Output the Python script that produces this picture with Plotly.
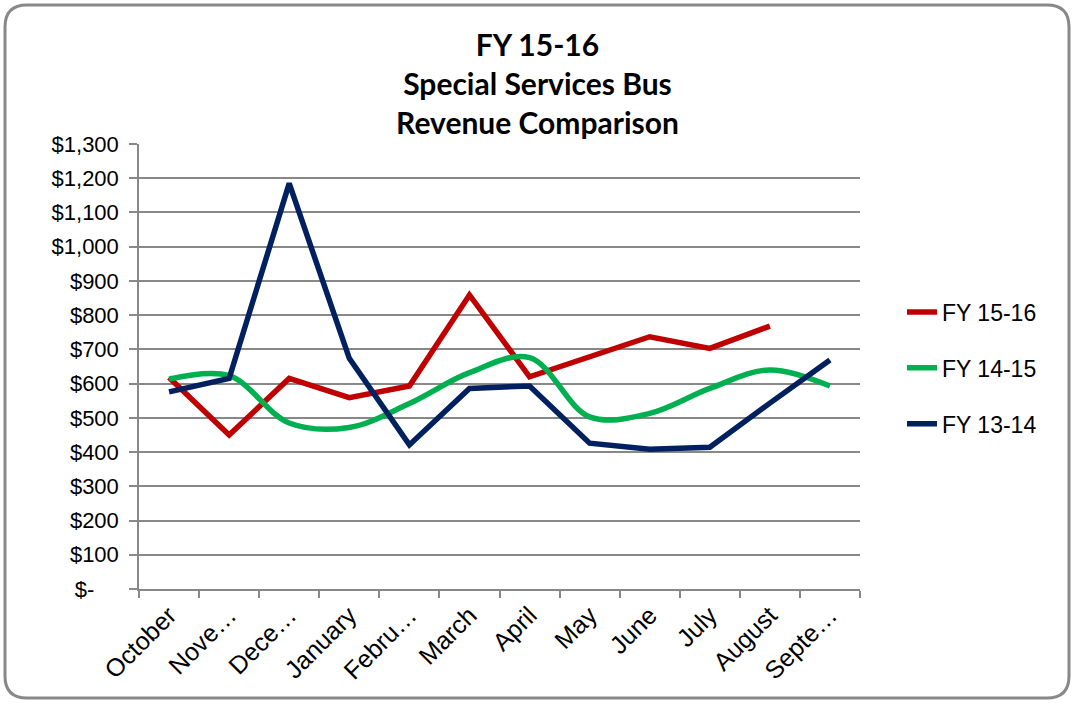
import plotly.graph_objects as go

# ---- data ----
months = ["October", "Nove…", "Dece…", "January", "Febru…", "March",
          "April", "May", "June", "July", "August", "Septe…"]
fy_15_16 = [618, 450, 615, 559, 593, 859, 620, 680, 737, 703, 768, None]
fy_14_15 = [613, 623, 485, 472, 542, 632, 676, 503, 513, 586, 640, 593]
fy_13_14 = [576, 615, 1185, 674, 421, 586, 593, 426, 408, 414, 543, 669]
y_tick_vals = list(range(0, 1400, 100))
y_tick_text = ["$-" + "\u00a0" * 4] + ["${:,}".format(v) for v in y_tick_vals[1:]]

W, H = 1075, 703
L, R, T, B = 139, 215, 144, 114
pw, ph = W - L - R, H - T - B

fig = go.Figure()
fig.add_trace(go.Scatter(x=months, y=fy_15_16, name="FY 15-16", mode="lines",
                         line=dict(color="#C00000", width=5.5), legendgroup="a"))
fig.add_trace(go.Scatter(x=months, y=fy_14_15, name="FY 14-15", mode="lines",
                         line=dict(color="#00B050", width=5.5, shape="spline", smoothing=1),
                         legendgroup="b"))
fig.add_trace(go.Scatter(x=months, y=fy_13_14, name="FY 13-14", mode="lines",
                         line=dict(color="#002060", width=5.5), legendgroup="c"))

# rounded border around the whole chart (pixel -> paper)
def px(xp):
    return (xp - L) / pw

def py(yp):
    return (H - B - yp) / ph

x0, y0, x1, y1, r = 5, 5, 1069, 698, 22
path = (f"M {px(x0 + r)},{py(y0)} L {px(x1 - r)},{py(y0)} "
        f"Q {px(x1)},{py(y0)} {px(x1)},{py(y0 + r)} "
        f"L {px(x1)},{py(y1 - r)} Q {px(x1)},{py(y1)} {px(x1 - r)},{py(y1)} "
        f"L {px(x0 + r)},{py(y1)} Q {px(x0)},{py(y1)} {px(x0)},{py(y1 - r)} "
        f"L {px(x0)},{py(y0 + r)} Q {px(x0)},{py(y0)} {px(x0 + r)},{py(y0)} Z")

fig.update_layout(
    width=W, height=H,
    margin=dict(l=L, r=R, t=T, b=B),
    paper_bgcolor="white", plot_bgcolor="white",
    font=dict(family="Liberation Sans, Arial, sans-serif", size=22, color="black"),
    title=dict(text="<b>FY 15-16<br>Special Services Bus<br>Revenue Comparison</b>",
               x=0.5, xref="container", xanchor="center",
               y=1 - 56 / H, yref="container", yanchor="middle",
               font=dict(family="Lato, Calibri, Carlito, sans-serif", size=30, color="black")),
    showlegend=True,
    legend=dict(x=px(902), xanchor="left", y=py(368), yanchor="middle",
                font=dict(size=23), tracegroupgap=23, traceorder="grouped",
                bgcolor="rgba(0,0,0,0)"),
    shapes=[dict(type="path", xref="paper", yref="paper", path=path,
                 line=dict(color="#888888", width=3), layer="above")],
)
fig.update_xaxes(type="category", range=[-0.5, 11.5], tickson="boundaries",
                 ticks="outside", ticklen=7, tickcolor="#888888", tickwidth=1.5,
                 showline=True, linecolor="#888888", linewidth=1.5,
                 showgrid=False, tickangle=-45, tickfont=dict(size=25))
fig.update_yaxes(range=[0, 1300], tickvals=y_tick_vals, ticktext=y_tick_text,
                 ticks="outside", ticklen=8, tickcolor="#888888", tickwidth=1.5,
                 showline=True, linecolor="#888888", linewidth=1.5,
                 showgrid=True, gridcolor="#888888", gridwidth=1.5,
                 zeroline=False, ticklabelstandoff=6, tickfont=dict(size=22))

fig.write_html("out.html", config={"displayModeBar": False},
               post_script="document.body.style.margin='0px';")
